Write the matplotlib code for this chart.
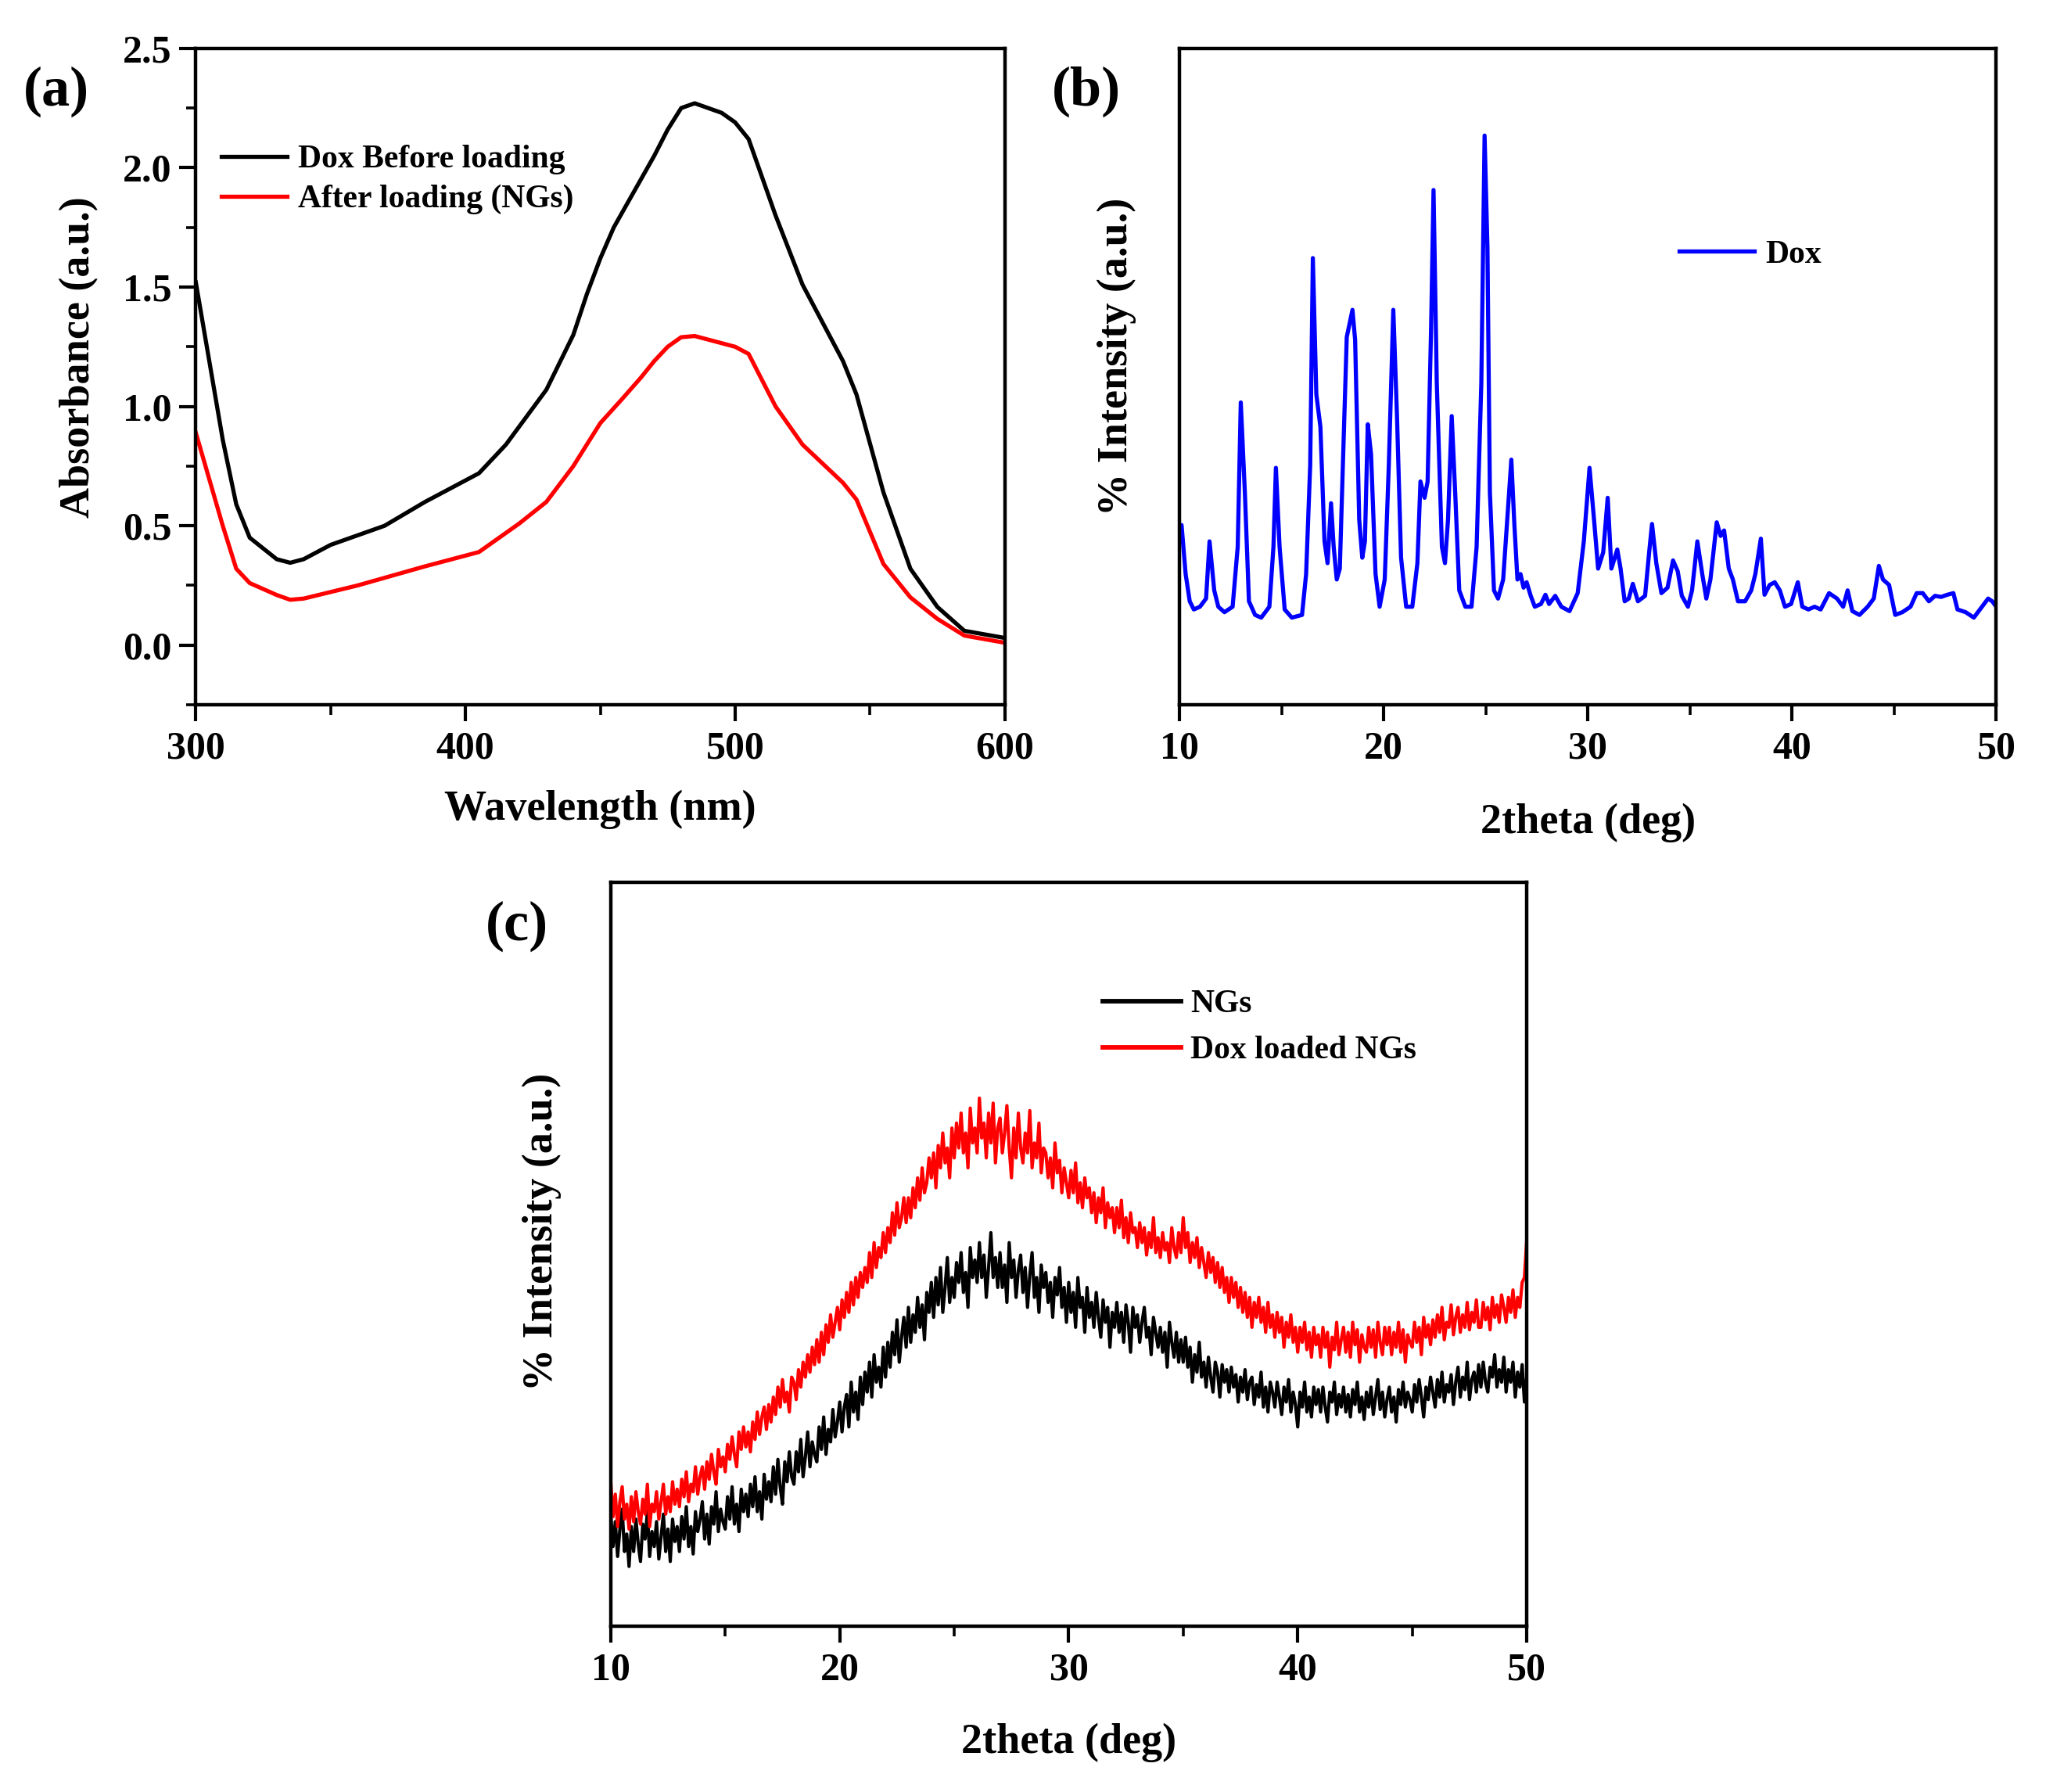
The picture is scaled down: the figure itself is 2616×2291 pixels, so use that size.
import matplotlib
matplotlib.use("Agg")
import matplotlib.pyplot as plt
import numpy as np
from matplotlib.ticker import MultipleLocator, NullLocator, FormatStrFormatter

# ---- (a) UV-vis absorbance ----
wl_before = [300, 310, 315, 320, 330, 335, 340, 350, 370, 385, 405, 415, 430, 440,
             445, 450, 455, 460, 470, 475, 480, 485, 495, 500, 505, 515, 525, 540,
             545, 555, 565, 575, 585, 600]
abs_before = [1.52, 0.86, 0.59, 0.45, 0.36, 0.345, 0.36, 0.42, 0.50, 0.60, 0.72, 0.84,
              1.07, 1.30, 1.47, 1.62, 1.75, 1.85, 2.05, 2.16, 2.25, 2.27, 2.23, 2.19,
              2.12, 1.80, 1.51, 1.19, 1.05, 0.64, 0.32, 0.16, 0.06, 0.03]
wl_after = [300, 310, 315, 320, 330, 335, 340, 360, 385, 405, 420, 430, 440, 445,
            450, 458, 465, 470, 475, 480, 485, 500, 505, 515, 525, 540, 545, 555,
            565, 575, 585, 600]
abs_after = [0.89, 0.50, 0.32, 0.26, 0.21, 0.19, 0.195, 0.25, 0.33, 0.39, 0.51, 0.60,
             0.75, 0.84, 0.93, 1.03, 1.12, 1.19, 1.25, 1.29, 1.295, 1.25, 1.22, 1.00,
             0.84, 0.68, 0.61, 0.34, 0.20, 0.11, 0.04, 0.01]

# ---- (b) XRD of free Dox ----
dox_2theta = [10.0, 10.1, 10.3, 10.5, 10.7, 11.0, 11.3, 11.47, 11.7, 11.9, 12.2, 12.6,
              12.85, 13.0, 13.2, 13.4, 13.7, 14.0, 14.4, 14.6, 14.72, 14.9, 15.15, 15.5,
              16.0, 16.2, 16.4, 16.53, 16.7, 16.9, 17.1, 17.25, 17.42, 17.55, 17.7, 17.85,
              18.0, 18.19, 18.47, 18.6, 18.8, 18.95, 19.08, 19.22, 19.38, 19.6, 19.8, 20.05,
              20.25, 20.47, 20.65, 20.85, 21.1, 21.4, 21.65, 21.8, 22.0, 22.15, 22.32, 22.44,
              22.6, 22.85, 23.0, 23.15, 23.33, 23.5, 23.7, 24.0, 24.3, 24.55, 24.78, 24.94,
              25.08, 25.2, 25.4, 25.6, 25.85, 26.05, 26.25, 26.4, 26.55, 26.7, 26.85, 27.0,
              27.2, 27.4, 27.7, 27.92, 28.1, 28.4, 28.7, 29.1, 29.5, 29.8, 30.08, 30.3,
              30.5, 30.75, 30.97, 31.15, 31.44, 31.6, 31.8, 32.0, 32.2, 32.45, 32.8, 33.0,
              33.14, 33.35, 33.6, 33.9, 34.17, 34.4, 34.6, 34.9, 35.1, 35.36, 35.6, 35.8,
              36.0, 36.31, 36.5, 36.67, 36.9, 37.1, 37.35, 37.7, 38.0, 38.2, 38.47, 38.65,
              38.9, 39.15, 39.4, 39.65, 39.95, 40.28, 40.5, 40.8, 41.1, 41.4, 41.81, 42.2,
              42.5, 42.72, 42.95, 43.3, 43.7, 44.0, 44.25, 44.45, 44.75, 45.05, 45.4, 45.8,
              46.1, 46.4, 46.7, 47.0, 47.3, 47.6, 47.9, 48.1, 48.5, 48.9, 49.1, 49.3,
              49.6, 49.8, 50.0]
dox_int = [325, 330, 240, 190, 175, 180, 195, 300, 210, 180, 170, 180,
           290, 555, 390, 190, 165, 160, 180, 290, 435, 290, 175, 160,
           165, 240, 440, 820, 570, 510, 300, 260, 370, 290, 230, 250,
           440, 675, 725, 670, 340, 270, 300, 515, 460, 240, 180, 230,
           440, 725, 530, 270, 180, 180, 260, 410, 380, 410, 690, 945,
           590, 290, 260, 340, 530, 390, 210, 180, 180, 290, 590, 1045,
           840, 390, 210, 195, 230, 340, 450, 330, 230, 240, 215, 225,
           200, 180, 185, 202, 185, 200, 180, 172, 205, 300, 435, 340,
           250, 280, 380, 250, 285, 250, 190, 195, 222, 190, 200, 280,
           332, 260, 205, 215, 265, 245, 200, 180, 210, 300, 240, 195,
           230, 335, 310, 320, 250, 230, 190, 190, 210, 240, 305, 202,
           220, 225, 210, 180, 185, 225, 180, 175, 180, 175, 205, 195,
           180, 210, 172, 165, 180, 195, 255, 230, 220, 165, 170, 180,
           205, 205, 190, 200, 198, 202, 205, 175, 170, 160, 170, 180,
           195, 190, 180]

# ---- (c) XRD of NGs, values read every 0.1 deg (one row per degree) ----
ng_2theta = np.arange(100, 501) / 10
ng_plain = [
    225, 160, 210, 140, 195, 235, 150, 185, 120, 200,
    150, 215, 165, 130, 205, 175, 230, 140, 190, 160,
    210, 135, 180, 225, 150, 195, 130, 215, 170, 200,
    150, 220, 175, 240, 160, 200, 145, 230, 190, 215,
    250, 175, 225, 165, 240, 205, 270, 190, 235, 210,
    195, 260, 215, 280, 205, 245, 190, 275, 230, 265,
    220, 285, 240, 300, 230, 270, 215, 305, 255, 290,
    250, 320, 265, 335, 280, 245, 330, 290, 350, 300,
    285, 350, 310, 375, 300, 340, 390, 320, 370, 345,
    330, 400, 355, 420, 345, 395, 370, 435, 380, 410,
    450, 390, 440, 465, 400, 490, 430, 470, 415, 500,
    445, 510, 470, 530, 460, 545, 490, 520, 480, 560,
    500, 570, 520, 590, 545, 615, 530, 580, 620, 560,
    640, 570, 625, 590, 660, 600, 645, 575, 670, 630,
    690, 620, 700, 645, 720, 630, 680, 740, 650, 700,
    660, 730, 690, 750, 670, 710, 640, 760, 700, 735,
    690, 770, 700, 745, 660, 720, 790, 700, 740, 680,
    750, 680, 725, 650, 770, 700, 735, 660, 715, 745,
    670, 720, 640, 705, 750, 660, 700, 630, 725, 680,
    710, 650, 690, 620, 700, 665, 720, 640, 680, 610,
    690, 630, 670, 600, 700, 640, 660, 590, 680, 620,
    650, 600, 670, 620, 580, 655, 610, 640, 560, 630,
    600, 650, 590, 630, 570, 645, 610, 550, 640, 600,
    625, 570, 610, 640, 580, 600, 545, 620, 590, 560,
    600, 550, 590, 520, 610, 570, 540, 590, 530, 575,
    530, 580, 520, 560, 490, 545, 510, 570, 500, 530,
    480, 540, 500, 470, 530, 510, 460, 525, 490, 515,
    470, 520, 480, 505, 450, 500, 470, 515, 455, 490,
    500, 445, 485, 460, 510, 440, 480, 430, 490, 470,
    440, 490, 460, 425, 480, 450, 495, 430, 470, 445,
    400, 470, 440, 490, 430, 460, 420, 480, 445, 475,
    430, 480, 440, 410, 470, 450, 490, 425, 465, 440,
    480, 430, 465, 420, 475, 445, 490, 430, 460, 415,
    470, 440, 480, 425, 460, 495, 435, 470, 420, 455,
    480, 430, 460, 410, 475, 445, 490, 440, 470, 455,
    430, 485, 450, 495, 460, 420, 480, 455, 500, 470,
    440, 495, 460, 510, 450, 485, 470, 505, 445, 490,
    520, 460, 500, 475, 530, 455, 495, 510, 470, 525,
    480, 530, 490, 470, 520, 500, 545, 480, 515, 490,
    540, 470, 515, 490, 530, 460, 510, 480, 525, 450,
    500]
ng_loaded = [
    290, 220, 265, 200, 250, 280, 215, 245, 195, 260,
    210, 270, 230, 205, 255, 225, 285, 200, 245, 230,
    270, 215, 250, 285, 225, 260, 230, 290, 245, 275,
    240, 295, 260, 310, 250, 285, 270, 320, 265, 300,
    320, 275, 330, 295, 345, 310, 285, 355, 320, 340,
    310, 365, 335, 380, 345, 320, 390, 355, 400, 360,
    390, 350, 410, 375, 430, 385, 420, 440, 395, 445,
    410, 460, 425, 480, 440, 495, 450, 470, 430, 500,
    490, 455, 515, 480, 530, 500, 545, 510, 560, 525,
    575, 530, 590, 545, 605, 570, 625, 580, 610, 640,
    595, 655, 620, 670, 630, 690, 645, 700, 660, 710,
    680, 720, 690, 750, 700, 770, 720, 760, 740, 790,
    750, 800, 770, 830, 785, 850, 800, 820, 860, 810,
    860, 820, 880, 840, 900, 855, 920, 870, 890, 940,
    900, 950, 880, 965, 920, 990, 930, 960, 900, 1000,
    940, 1010, 960, 1030, 950, 990, 920, 1040, 970, 1000,
    950, 1060, 980, 1010, 940, 1030, 970, 1050, 930, 1000,
    1020, 950, 990, 1045, 960, 900, 1000, 940, 1030, 960,
    930, 990, 950, 1035, 920, 970, 940, 1010, 910, 960,
    950, 900, 940, 880, 970, 910, 935, 870, 920, 890,
    860, 915, 870, 930, 850, 890, 840, 900, 860, 880,
    830, 870, 810, 860, 830, 880, 800, 850, 820, 840,
    790, 840, 800, 855, 780, 820, 770, 830, 790, 800,
    760, 810, 770, 800, 745, 790, 760, 820, 750, 780,
    740, 790, 755, 770, 730, 800, 760, 740, 790, 750,
    820, 760, 790, 730, 770, 740, 780, 720, 760, 730,
    700, 750, 710, 740, 690, 730, 680, 720, 670, 700,
    650, 700, 660, 690, 640, 680, 630, 670, 620, 660,
    600, 650, 620, 660, 610, 640, 590, 650, 600, 625,
    580, 630, 590, 620, 560, 610, 580, 625, 570, 600,
    550, 600, 570, 610, 555, 590, 540, 600, 565, 585,
    540, 600, 560, 590, 520, 580, 555, 610, 545, 575,
    600, 550, 590, 540, 610, 565, 595, 530, 585, 560,
    550, 600, 560, 595, 540, 610, 570, 545, 600, 565,
    600, 545, 590, 560, 610, 550, 595, 530, 585, 570,
    560, 610, 570, 600, 545, 620, 580, 605, 565, 615,
    580, 625, 590, 640, 575, 610, 600, 645, 585, 620,
    640, 590, 625, 600, 650, 595, 630, 610, 655, 600,
    600, 650, 615, 640, 595, 660, 620, 645, 610, 665,
    640, 610, 660, 630, 675, 620, 660, 640, 690, 700,
    775]

plt.rcParams['font.family'] = ['Liberation Serif', 'DejaVu Serif']
plt.rcParams['font.weight'] = 'bold'
plt.rcParams['axes.labelweight'] = 'bold'

fig = plt.figure(figsize=(26.16, 22.91), dpi=100)
ax_a = fig.add_axes([0.0957, 0.6067, 0.3954, 0.3663])
ax_b = fig.add_axes([0.5765, 0.6067, 0.3992, 0.3663])
ax_c = fig.add_axes([0.2985, 0.0925, 0.4477, 0.4151])

tick_fs = 36
label_fs = 39
leg_fs = 30


def style(ax):
    for s in ax.spines.values():
        s.set_linewidth(3.2)
    ax.tick_params(which='major', direction='out', length=15, width=3.0,
                   labelsize=tick_fs, pad=9)
    ax.tick_params(which='minor', direction='out', length=9, width=2.6)


# (a)
ax_a.plot(wl_before, abs_before, color='black', lw=3.8, label='Dox Before loading')
ax_a.plot(wl_after, abs_after, color='#ff0000', lw=3.8, label='After loading (NGs)')
ax_a.set_xlim(300, 600)
ax_a.set_ylim(-0.25, 2.5)
ax_a.xaxis.set_major_locator(MultipleLocator(100))
ax_a.xaxis.set_minor_locator(MultipleLocator(50))
ax_a.yaxis.set_major_locator(MultipleLocator(0.5))
ax_a.yaxis.set_minor_locator(MultipleLocator(0.25))
ax_a.yaxis.set_major_formatter(FormatStrFormatter('%.1f'))
style(ax_a)
ax_a.tick_params(axis='y', which='major', pad=7)
ax_a.set_xlabel('Wavelength (nm)', fontsize=label_fs)
ax_a.set_ylabel('Absorbance (a.u.)', fontsize=label_fs)
ax_a.xaxis.set_label_coords(0.5, -0.13)
ax_a.yaxis.set_label_coords(-0.12, 0.53)
ax_a.legend(loc='upper left', bbox_to_anchor=(0.032, 0.853), frameon=False,
            fontsize=leg_fs, handlelength=2.0, handletextpad=0.35,
            labelspacing=0.3, borderpad=0, borderaxespad=0)

# (b)
ax_b.plot(dox_2theta, dox_int, color='#0000ff', lw=3.8, label='Dox')
ax_b.set_xlim(10, 50)
ax_b.set_ylim(0, 1205)
ax_b.xaxis.set_major_locator(MultipleLocator(10))
ax_b.xaxis.set_minor_locator(MultipleLocator(5))
ax_b.yaxis.set_major_locator(NullLocator())
style(ax_b)
ax_b.set_xlabel('2theta (deg)', fontsize=label_fs)
ax_b.set_ylabel('% Intensity (a.u.)', fontsize=label_fs)
ax_b.xaxis.set_label_coords(0.5, -0.15)
ax_b.yaxis.set_label_coords(-0.053, 0.53)
ax_b.legend(loc='upper left', bbox_to_anchor=(0.612, 0.708), frameon=False,
            fontsize=leg_fs, handlelength=2.3, handletextpad=0.35,
            borderpad=0, borderaxespad=0)

# (c)
ax_c.plot(ng_2theta, ng_plain, color='black', lw=3.0, label='NGs')
ax_c.plot(ng_2theta, ng_loaded, color='#ff0000', lw=3.0, label='Dox loaded NGs')
ax_c.set_xlim(10, 50)
ax_c.set_ylim(0, 1493)
ax_c.xaxis.set_major_locator(MultipleLocator(10))
ax_c.xaxis.set_minor_locator(MultipleLocator(5))
ax_c.yaxis.set_major_locator(NullLocator())
style(ax_c)
ax_c.set_xlabel('2theta (deg)', fontsize=label_fs)
ax_c.set_ylabel('% Intensity (a.u.)', fontsize=label_fs)
ax_c.xaxis.set_label_coords(0.5, -0.13)
ax_c.yaxis.set_label_coords(-0.054, 0.53)
leg_c = ax_c.legend(loc='upper left', bbox_to_anchor=(0.537, 0.856), frameon=False,
                    fontsize=leg_fs, handlelength=2.4, handletextpad=0.3,
                    labelspacing=0.5, borderpad=0, borderaxespad=0)
for ln in leg_c.get_lines():
    ln.set_linewidth(4.2)

# panel letters
fig.text(0.0274, 0.949, '(a)', fontsize=52, ha='center', va='center')
fig.text(0.531, 0.949, '(b)', fontsize=52, ha='center', va='center')
fig.text(0.2526, 0.483, '(c)', fontsize=52, ha='center', va='center')

fig.savefig('out.png', dpi=100)
